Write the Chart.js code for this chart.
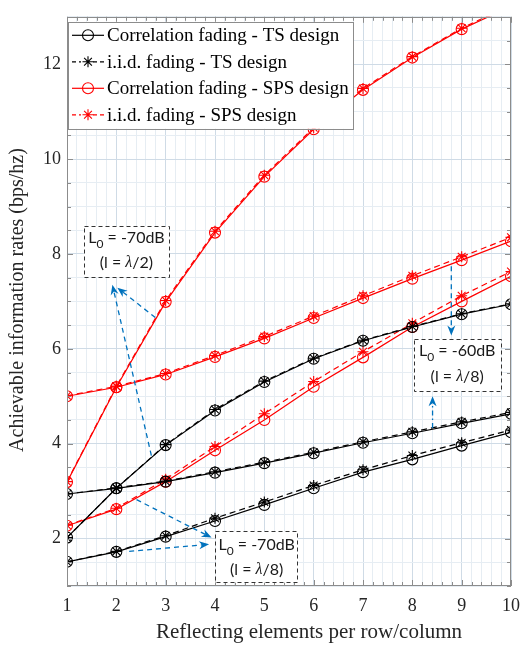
<!DOCTYPE html>
<html>
<head>
<meta charset="utf-8">
<script src="https://cdn.jsdelivr.net/npm/chart.js@4"></script>
<style>
  html, body { margin: 0; padding: 0; background: #fff; }
  #wrap { width: 529px; height: 647px; position: relative; }
</style>
</head>
<body>
<div id="wrap"><canvas id="chart"></canvas></div>
<script>
// elementos por fila/columna
const xVals = [1, 2, 3, 4, 5, 6, 7, 8, 9, 10];
const xTicks = [1, 2, 3, 4, 5, 6, 7, 8, 9, 10];
const yTicks = [2, 4, 6, 8, 10, 12];

// TS design, correlated fading (circle, solid)
const tsCorrLam2 = [2.02, 3.06, 3.97, 4.70, 5.30, 5.79, 6.17, 6.46, 6.73, 6.94];
const tsCorr60 = [2.94, 3.06, 3.20, 3.39, 3.59, 3.80, 4.02, 4.22, 4.43, 4.63];
const tsCorr70 = [1.51, 1.72, 2.04, 2.37, 2.71, 3.06, 3.40, 3.67, 3.96, 4.24];
// TS design, i.i.d. fading (star, dashed)
const tsIidLam2 = [2.02, 3.06, 3.98, 4.72, 5.32, 5.80, 6.18, 6.47, 6.74, 6.95];
const tsIid60 = [2.94, 3.07, 3.21, 3.41, 3.61, 3.82, 4.04, 4.25, 4.46, 4.66];
const tsIid70 = [1.51, 1.73, 2.06, 2.43, 2.77, 3.12, 3.45, 3.75, 4.02, 4.29];
// SPS design, correlated fading
const spsCorrLam2 = [3.19, 5.19, 6.99, 8.45, 9.63, 10.63, 11.46, 12.14, 12.74, 13.22];
const spsCorr60 = [5.00, 5.19, 5.46, 5.83, 6.22, 6.65, 7.07, 7.48, 7.87, 8.27];
const spsCorr70 = [2.27, 2.62, 3.20, 3.86, 4.50, 5.20, 5.82, 6.46, 7.00, 7.53];
// SPS design, i.i.d. fading
const spsIidLam2 = [3.20, 5.21, 7.02, 8.48, 9.66, 10.66, 11.49, 12.16, 12.76, 13.25];
const spsIid60 = [5.01, 5.21, 5.48, 5.86, 6.26, 6.69, 7.12, 7.54, 7.94, 8.35];
const spsIid70 = [2.28, 2.64, 3.25, 3.94, 4.63, 5.31, 5.94, 6.54, 7.12, 7.63];

const legendLabels = [
    'Correlation fading - TS design',
    'i.i.d. fading - TS design',
    'Correlation fading - SPS design',
    'i.i.d. fading - SPS design'
];

const NEGRO = '#000000';
const ROJO = '#ff0000';
const AZUL = '#0072bd';
const SERIF = '"Liberation Serif", "DejaVu Serif", serif';
const SANS = '"Liberation Sans Narrow", Lato, "Liberation Sans", sans-serif';

const estilos = [
    { color: NEGRO, dash: [], punto: 'circle' },
    { color: NEGRO, dash: [6, 4], punto: 'star' },
    { color: ROJO, dash: [], punto: 'circle' },
    { color: ROJO, dash: [6, 4], punto: 'star' }
];

function serie(label, valores, estilo) {
    return {
        label: label,
        data: xVals.map((x, i) => ({ x: x, y: valores[i] })),
        borderColor: estilo.color,
        backgroundColor: 'transparent',
        borderWidth: 1.2,
        borderDash: estilo.dash,
        pointStyle: estilo.punto,
        pointRadius: 5.5,
        pointBorderColor: estilo.color,
        pointBackgroundColor: 'transparent',
        pointBorderWidth: 1.1,
        tension: 0
    };
}

const datasets = [
    serie(legendLabels[0], tsCorrLam2, estilos[0]),
    serie(legendLabels[0], tsCorr60, estilos[0]),
    serie(legendLabels[0], tsCorr70, estilos[0]),
    serie(legendLabels[1], tsIidLam2, estilos[1]),
    serie(legendLabels[1], tsIid60, estilos[1]),
    serie(legendLabels[1], tsIid70, estilos[1]),
    serie(legendLabels[2], spsCorrLam2, estilos[2]),
    serie(legendLabels[2], spsCorr60, estilos[2]),
    serie(legendLabels[2], spsCorr70, estilos[2]),
    serie(legendLabels[3], spsIidLam2, estilos[3]),
    serie(legendLabels[3], spsIid60, estilos[3]),
    serie(legendLabels[3], spsIid70, estilos[3])
];

// cajas de texto y flechas (en coordenadas de datos)
const cajas = [
    { x0: 1.34, x1: 3.07, y0: 8.59, y1: 7.51, l0: '-70dB', lam: '2', t1: 8.33, t2: 7.81 },
    { x0: 8.03, x1: 9.79, y0: 6.21, y1: 5.11, l0: '-60dB', lam: '8', t1: 5.96, t2: 5.41 },
    { x0: 4.01, x1: 5.68, y0: 2.15, y1: 1.07, l0: '-70dB', lam: '8', t1: 1.87, t2: 1.35 }
];
const flechas = [
    { from: [2.71, 3.75], to: [1.92, 7.35], dash: [5, 4] },
    { from: [2.79, 6.66], to: [2.02, 7.29], dash: [5, 4] },
    { from: [8.79, 7.74], to: [8.79, 6.28], dash: [5, 4] },
    { from: [8.41, 4.33], to: [8.41, 5.00], dash: [5, 3, 1.5, 3] },
    { from: [2.26, 1.73], to: [3.88, 1.88], dash: [5, 4] },
    { from: [2.41, 2.82], to: [3.93, 2.02], dash: [5, 4] }
];

function ticksMenores(min, max, paso) {
    const lista = [];
    for (let v = min; v <= max + 1e-9; v += paso) {
        lista.push({ value: Math.round(v * 100) / 100 });
    }
    return lista;
}

function dibujarFlecha(ctx, x0, y0, x1, y1, dash) {
    const ang = Math.atan2(y1 - y0, x1 - x0);
    const largo = 10;
    const ancho = 4;
    const bx = x1 - Math.cos(ang) * largo * 0.7;
    const by = y1 - Math.sin(ang) * largo * 0.7;
    ctx.save();
    ctx.strokeStyle = AZUL;
    ctx.fillStyle = AZUL;
    ctx.lineWidth = 1.3;
    ctx.setLineDash(dash);
    ctx.beginPath();
    ctx.moveTo(x0, y0);
    ctx.lineTo(bx, by);
    ctx.stroke();
    ctx.setLineDash([]);
    const cx = x1 - Math.cos(ang) * largo;
    const cy = y1 - Math.sin(ang) * largo;
    const px = -Math.sin(ang) * ancho;
    const py = Math.cos(ang) * ancho;
    ctx.beginPath();
    ctx.moveTo(x1, y1);
    ctx.lineTo(cx + px, cy + py);
    ctx.lineTo(bx, by);
    ctx.lineTo(cx - px, cy - py);
    ctx.closePath();
    ctx.fill();
    ctx.restore();
}

function dibujarCaja(ctx, xs, ys, c) {
    const left = xs.getPixelForValue(c.x0);
    const right = xs.getPixelForValue(c.x1);
    const top = ys.getPixelForValue(c.y0);
    const bottom = ys.getPixelForValue(c.y1);
    ctx.save();
    ctx.fillStyle = '#ffffff';
    ctx.fillRect(left, top, right - left, bottom - top);
    ctx.strokeStyle = '#333333';
    ctx.lineWidth = 1;
    ctx.setLineDash([4, 3]);
    ctx.strokeRect(Math.round(left) + 0.5, Math.round(top) + 0.5, Math.round(right - left), Math.round(bottom - top));
    ctx.setLineDash([]);

    const cx = (left + right) / 2;
    ctx.fillStyle = '#1a1a1a';
    ctx.textBaseline = 'middle';
    ctx.textAlign = 'left';

    // primera linea: L0 = -70dB
    const y1 = ys.getPixelForValue(c.t1);
    const fGrande = '16px ' + SANS;
    const fChica = '12px ' + SANS;
    ctx.font = fGrande;
    const wL = ctx.measureText('L').width;
    const resto = ' = ' + c.l0;
    const wR = ctx.measureText(resto).width;
    ctx.font = fChica;
    const wSub = ctx.measureText('0').width;
    let x = cx - (wL + wSub + wR) / 2;
    ctx.font = fGrande;
    ctx.fillText('L', x, y1);
    ctx.font = fChica;
    ctx.fillText('0', x + wL, y1 + 6);
    ctx.font = fGrande;
    ctx.fillText(resto, x + wL + wSub, y1);

    // segunda linea: (l = λ/n)
    const y2 = ys.getPixelForValue(c.t2);
    const a = '(l = ';
    const b = '/' + c.lam + ')';
    const fLam = 'italic 16px ' + SERIF;
    ctx.font = fGrande;
    const wa = ctx.measureText(a).width;
    const wb = ctx.measureText(b).width;
    ctx.font = fLam;
    const wl = ctx.measureText('λ').width;
    x = cx - (wa + wl + wb) / 2;
    ctx.font = fGrande;
    ctx.fillText(a, x, y2);
    ctx.font = fLam;
    ctx.fillText('λ', x + wa, y2);
    ctx.font = fGrande;
    ctx.fillText(b, x + wa + wl, y2);
    ctx.restore();
}

const decorado = {
    id: 'decorado',
    afterDraw(chart) {
        const { ctx, chartArea: area, scales: { x: xs, y: ys } } = chart;
        ctx.save();

        // marco
        ctx.strokeStyle = '#8c8c8c';
        ctx.lineWidth = 1;
        ctx.strokeRect(Math.round(area.left) + 0.5, Math.round(area.top) + 0.5,
            Math.round(area.width) - 1, Math.round(area.height) - 1);

        // ticks hacia adentro
        ctx.beginPath();
        xs.ticks.forEach(t => {
            const px = Math.round(xs.getPixelForValue(t.value)) + 0.5;
            const len = xTicks.includes(t.value) ? 6 : 4;
            ctx.moveTo(px, area.bottom);
            ctx.lineTo(px, area.bottom - len);
            ctx.moveTo(px, area.top);
            ctx.lineTo(px, area.top + len);
        });
        ys.ticks.forEach(t => {
            const py = Math.round(ys.getPixelForValue(t.value)) + 0.5;
            const len = yTicks.includes(t.value) ? 6 : 4;
            ctx.moveTo(area.left, py);
            ctx.lineTo(area.left + len, py);
            ctx.moveTo(area.right, py);
            ctx.lineTo(area.right - len, py);
        });
        ctx.stroke();

        // flechas y cajas
        flechas.forEach(f => {
            dibujarFlecha(ctx,
                xs.getPixelForValue(f.from[0]), ys.getPixelForValue(f.from[1]),
                xs.getPixelForValue(f.to[0]), ys.getPixelForValue(f.to[1]), f.dash);
        });
        cajas.forEach(c => dibujarCaja(ctx, xs, ys, c));

        // leyenda
        const lx = area.left + 1;
        const ly = area.top + 5;
        const lw = 285;
        const lh = 107;
        ctx.fillStyle = '#ffffff';
        ctx.fillRect(lx, ly, lw, lh);
        ctx.strokeStyle = '#8c8c8c';
        ctx.lineWidth = 1;
        ctx.strokeRect(Math.round(lx) + 0.5, Math.round(ly) + 0.5, lw, lh);
        ctx.textBaseline = 'middle';
        ctx.textAlign = 'left';
        legendLabels.forEach((txt, i) => {
            const est = estilos[i];
            const ry = ly + 13.5 + i * 26.5;
            ctx.strokeStyle = est.color;
            ctx.lineWidth = 1.2;
            ctx.setLineDash(est.dash.length ? [4, 3] : []);
            ctx.beginPath();
            ctx.moveTo(lx + 4, ry);
            ctx.lineTo(lx + 36, ry);
            ctx.stroke();
            ctx.setLineDash([]);
            if (est.dash.length) {
                ctx.fillStyle = '#ffffff';
                ctx.fillRect(lx + 13, ry - 6, 12, 12);
            }
            ctx.fillStyle = 'rgba(0,0,0,0)';
            ctx.strokeStyle = est.color;
            ctx.lineWidth = 1.1;
            Chart.helpers.drawPoint(ctx, {
                pointStyle: est.punto, radius: 5.5, borderWidth: 1.1, rotation: 0
            }, lx + 20, ry);
            ctx.fillStyle = '#000000';
            ctx.font = '19px ' + SERIF;
            ctx.fillText(txt, lx + 39, ry + 1);
        });

        // titulos de ejes
        ctx.fillStyle = '#262626';
        ctx.textAlign = 'center';
        ctx.textBaseline = 'middle';
        ctx.font = '21px ' + SERIF;
        ctx.fillText('Reflecting elements per row/column', 309, 632);
        ctx.save();
        ctx.translate(18, 300);
        ctx.rotate(-Math.PI / 2);
        ctx.font = '20px ' + SERIF;
        ctx.fillText('Achievable information rates (bps/hz)', 0, 0);
        ctx.restore();

        ctx.restore();
    }
};

const grilla = (mayores) => (c) => {
    const v = c.tick ? c.tick.value : null;
    return mayores.includes(v) ? '#cfdbe6' : '#e6edf3';
};

new Chart(document.getElementById('chart'), {
    type: 'line',
    data: { datasets: datasets },
    plugins: [decorado],
    options: {
        responsive: true,
        maintainAspectRatio: false,
        animation: false,
        layout: { padding: { top: 8, right: 9, left: 0, bottom: 0 } },
        plugins: {
            legend: { display: false },
            tooltip: { enabled: false }
        },
        scales: {
            x: {
                type: 'linear',
                min: 1,
                max: 10,
                afterBuildTicks: (s) => { s.ticks = ticksMenores(1, 10, 0.2); },
                afterFit: (s) => { s.height = 61; },
                grid: { color: grilla(xTicks), lineWidth: 1, drawTicks: false },
                border: { display: false },
                ticks: {
                    autoSkip: false,
                    maxRotation: 0,
                    padding: 9,
                    color: '#262626',
                    font: { family: SERIF, size: 18 },
                    callback: (v) => xTicks.includes(v) ? String(v) : ''
                }
            },
            y: {
                type: 'linear',
                min: 1,
                max: 13,
                afterBuildTicks: (s) => { s.ticks = ticksMenores(1, 13, 0.5); },
                afterFit: (s) => { s.width = 67; },
                grid: { color: grilla(yTicks), lineWidth: 1, drawTicks: false },
                border: { display: false },
                ticks: {
                    autoSkip: false,
                    padding: 6,
                    color: '#262626',
                    font: { family: SERIF, size: 18 },
                    callback: (v) => yTicks.includes(v) ? String(v) : ''
                }
            }
        }
    }
});
</script>
</body>
</html>
